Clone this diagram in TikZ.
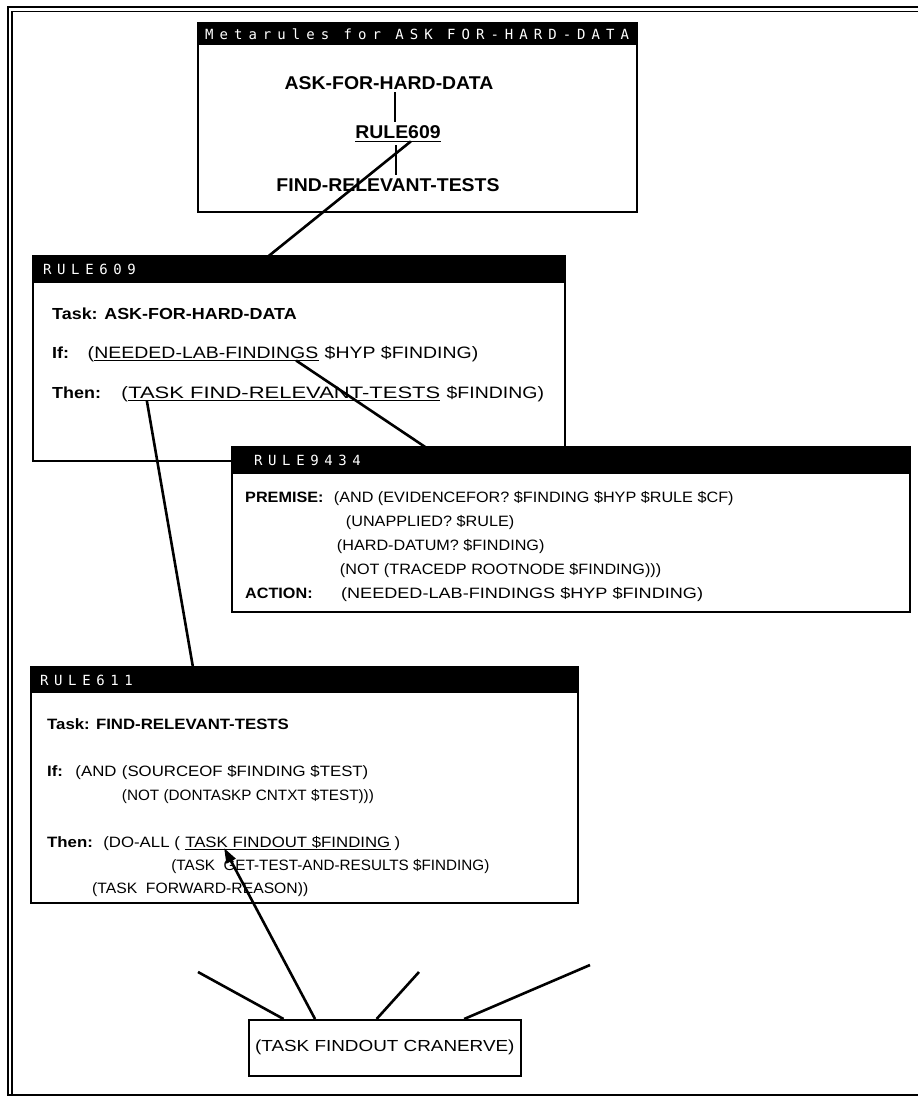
\documentclass[tikz,border=0pt]{standalone}
\usepackage{fontspec}
\usepackage{graphicx}
\setmainfont{Liberation Sans}
\newfontfamily\famM[FakeStretch=1.05]{Liberation Sans}
\newfontfamily\famA[FakeStretch=1.18]{Liberation Sans}
\newfontfamily\famB[FakeStretch=1.12]{Liberation Sans}
\newfontfamily\famC[FakeStretch=1.08]{Liberation Sans}
\newfontfamily\famT[LetterSpace=43]{DejaVu Sans Mono}
\newfontfamily\famH[LetterSpace=40]{DejaVu Sans Mono}
\newcommand\fm{\famM\fontsize{18.5}{20}\selectfont\bfseries}
\newcommand\fa{\famA\fontsize{16.5}{19}\selectfont}
\newcommand\fk{\famB\fontsize{16}{19}\selectfont\bfseries}
\newcommand\fb{\famB\fontsize{15}{17}\selectfont}
\newcommand\fc{\famC\fontsize{15}{17}\selectfont}
\newcommand\ft{\famT\fontsize{14}{14}\selectfont}
\newcommand\fh{\famH\fontsize{14}{14}\selectfont}
% set a line of text to a given width, height unchanged
\newcommand\wto[2]{\resizebox{#1pt}{\height}{#2}}
\usetikzlibrary{calc,arrows.meta}
\begin{document}
\begin{tikzpicture}[x=1pt,y=-1pt,
  frame/.style={draw, line width=1.8pt, fill=white, inner sep=0pt, outer sep=0pt, anchor=north west},
  bar/.style={fill=black, inner sep=0pt, outer sep=0pt, anchor=north west},
  hdr/.style={text=white, font=\fh, inner sep=0pt, anchor=west},
  mtxt/.style={font=\fm, inner sep=0pt},
  ta/.style={font=\fa, inner sep=0pt, anchor=base west},
  tk/.style={font=\fk, inner sep=0pt, anchor=base west},
  tb/.style={font=\fb, inner sep=0pt, anchor=base west},
  tc/.style={font=\fc, inner sep=0pt, anchor=base west},
  link/.style={line width=2.6pt},
  tie/.style={line width=1.5pt},
  uline/.style={line width=1.1pt},
]
\useasboundingbox (0,0) rectangle (918,1097);

% outer double frame
\draw[line width=2pt] (918,7) -- (7.5,7) -- (7.5,1095) -- (918,1095);
\draw[line width=1.3pt] (918,11.5) -- (12,11.5) -- (12,1095);

% metarule overview window
\node[frame, minimum width=439pt, minimum height=189pt] (meta) at (198,23) {};
\node[bar, minimum width=439pt, minimum height=22pt] (metabar) at (meta.north west) {};
\node[hdr, font=\ft] (metah) at ($(metabar.west)+(7,0.5)$) {Metarules for ASK FOR-HARD-DATA};
\node[mtxt] (ask) at (389,83.5) {ASK-FOR-HARD-DATA};
\node[mtxt] (mr609) at (398,132.5) {RULE609};
\node[mtxt] (mfrt) at (388,185) {FIND-RELEVANT-TESTS};
\draw[uline] ([yshift=-2.5pt]mr609.base west) -- ([yshift=-2.5pt]mr609.base east);
\draw[tie] ([xshift=6pt,yshift=-2pt]ask.south) -- ([xshift=-3pt,yshift=4pt]mr609.north);
\draw[tie] ([xshift=-2pt,yshift=-6pt]mr609.south) -- ([xshift=8pt,yshift=3pt]mfrt.north);

% RULE609
\node[frame, minimum width=532pt, minimum height=205pt] (rb1) at (33,256) {};
\node[bar, minimum width=532pt, minimum height=27pt] (rb1bar) at (rb1.north west) {};
\node[hdr] (rb1h) at ($(rb1bar.west)+(10,0)$) {RULE609};
\node[tk] (t1) at (52,319) {Task: ASK-FOR-HARD-DATA};
\node[tk] (if1) at (52,358) {If:};
\node[ta] (if1p) at ($(if1.base east)+(18,0)$) {(};
\node[ta] (nlf) at (if1p.base east) {NEEDED-LAB-FINDINGS};
\node[ta] (if1r) at ($(nlf.base east)+(6,0)$) {\$HYP \$FINDING)};
\draw[uline] ([yshift=-2.5pt]nlf.base west) -- ([yshift=-2.5pt]nlf.base east);
\node[tk] (th1) at (52,398) {Then:};
\node[ta] (th1p) at ($(th1.base east)+(20,0)$) {(};
\node[ta] (tfrt) at (th1p.base east) {\wto{312}{TASK FIND-RELEVANT-TESTS}};
\node[ta] (th1r) at ($(tfrt.base east)+(6,0)$) {\$FINDING)};
\draw[uline] ([yshift=-2.5pt]tfrt.base west) -- ([yshift=-2.5pt]tfrt.base east);

% RULE9434
\node[frame, minimum width=678pt, minimum height=165pt] (rb2) at (232,447) {};
\node[bar, minimum width=678pt, minimum height=27pt] (rb2bar) at (rb2.north west) {};
\node[hdr] (rb2h) at ($(rb2bar.west)+(22,0)$) {RULE9434};
\node[tc] (pr) at (245,502) {\bfseries PREMISE:};
\node[tc] (pr1) at ($(pr.base east)+(10,0)$) {(AND (EVIDENCEFOR? \$FINDING \$HYP \$RULE \$CF)};
\node[tc] (pr2) at ($(pr1.base west)+(12,24)$) {(UNAPPLIED? \$RULE)};
\node[tc] (pr3) at ($(pr1.base west)+(3,48)$) {(HARD-DATUM? \$FINDING)};
\node[tc] (pr4) at ($(pr1.base west)+(6,72)$) {(NOT (TRACEDP ROOTNODE \$FINDING)))};
\node[tc] (ac) at (245,598) {\bfseries ACTION:};
\node[tc] (ac1) at ($(ac.base east)+(28,0)$) {\wto{362}{(NEEDED-LAB-FINDINGS \$HYP \$FINDING)}};

% RULE611
\node[frame, minimum width=547pt, minimum height=236pt] (rb3) at (31,667) {};
\node[bar, minimum width=547pt, minimum height=26pt] (rb3bar) at (rb3.north west) {};
\node[hdr] (rb3h) at ($(rb3bar.west)+(9,0)$) {RULE611};
\node[tb] (t3) at (47,729) {\bfseries Task: FIND-RELEVANT-TESTS};
\node[tb] (if3) at (47,776) {\bfseries If:};
\node[tb] (if3a) at ($(if3.base east)+(12,0)$) {(AND};
\node[tb] (if3b) at ($(if3a.base east)+(5,0)$) {(SOURCEOF \$FINDING \$TEST)};
\node[tb] (if3c) at ($(if3b.base west)+(0,24)$) {\wto{252}{(NOT (DONTASKP CNTXT \$TEST)))}};
\node[tb] (th3) at (47,847) {\bfseries Then:};
\node[tb] (th3a) at ($(th3.base east)+(10,0)$) {(DO-ALL (};
\node[tb] (tfo) at ($(th3a.base east)+(5,0)$) {TASK FINDOUT \$FINDING};
\node[tb] (th3b) at ($(tfo.base east)+(4,0)$) {)};
\draw[uline] ([yshift=-2.5pt]tfo.base west) -- ([yshift=-2.5pt]tfo.base east);
\node[tb] (th3c) at ($(th3a.base west)+(68,23)$) {\wto{318}{(TASK\ \ GET-TEST-AND-RESULTS \$FINDING)}};
\node[tb] (th3d) at ($(th3.base west)+(45,46)$) {\wto{216}{(TASK\ \ FORWARD-REASON))}};

% task node at the bottom
\node[draw, line width=1.6pt, fill=white, minimum width=272pt, minimum height=56pt, inner sep=0pt,
      font=\famA\fontsize{16}{18}\selectfont, anchor=north west] (cran) at (248,1019) {(TASK FINDOUT CRANERVE)};
\coordinate (e1) at (198,972);
\coordinate (e2) at (419,972);
\coordinate (e3) at (590,965);

% connectors
\draw[link] ($(mr609.base west)!0.65!(mr609.base east)+(0,2.5)$) -- ($(rb1.north west)!0.443!(rb1.north east)$);
\draw[link] ($(nlf.base west)!0.9!(nlf.base east)+(0,2.5)$) -- ($(rb2.north west)!0.285!(rb2.north east)$);
\draw[link] ($(tfrt.base west)!0.06!(tfrt.base east)+(0,2.5)$) -- ($(rb3.north west)!0.296!(rb3.north east)$);
\draw[link] ($(cran.north west)!0.13!(cran.north east)$) -- (e1);
\draw[link] ($(cran.north west)!0.47!(cran.north east)$) -- (e2);
\draw[link] ($(cran.north west)!0.79!(cran.north east)$) -- (e3);
\draw[link, -{Triangle[length=15pt,width=10pt]}] ($(cran.north west)!0.245!(cran.north east)$) -- ($(tfo.base west)!0.19!(tfo.base east)+(0,1)$);
\end{tikzpicture}
\end{document}
